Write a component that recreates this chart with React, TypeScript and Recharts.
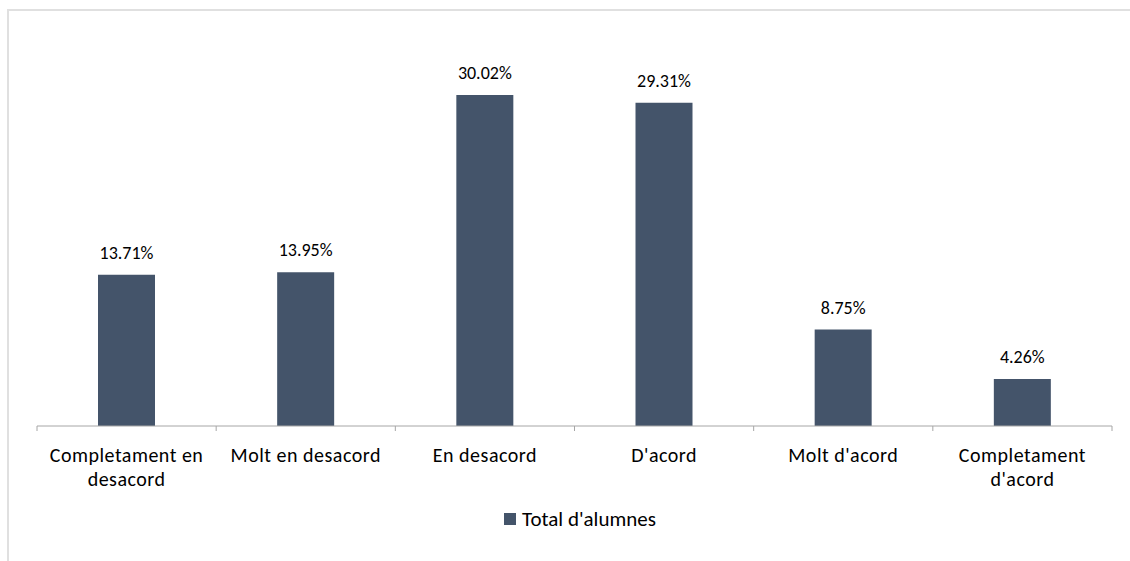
import React from "react";
import { BarChart, Bar, XAxis, YAxis, Legend, LabelList } from "recharts";

// categories and values
const categories: string[] = [
  "Completament en desacord",
  "Molt en desacord",
  "En desacord",
  "D'acord",
  "Molt d'acord",
  "Completament d'acord",
];
const totalAlumnes: number[] = [13.71, 13.95, 30.02, 29.31, 8.75, 4.26];
const seriesName = "Total d'alumnes";

const chartData = categories.map((cat, i) => ({
  category: cat,
  total: totalAlumnes[i],
}));

const FONT = "Calibri, Carlito, Lato, sans-serif";
const BAR_COLOR = "#44546a";
const TICK_FONT_SIZE = 20;
const TICK_SPACING = 0.5;

// greedy word wrap measured on a canvas
let ctx: CanvasRenderingContext2D | null = null;
const measure = (s: string) => {
  if (!ctx) {
    ctx = document.createElement("canvas").getContext("2d");
  }
  if (!ctx) return s.length * TICK_FONT_SIZE * 0.5;
  ctx.font = `${TICK_FONT_SIZE}px ${FONT}`;
  return ctx.measureText(s).width + s.length * TICK_SPACING;
};
const wrap = (label: string, maxWidth: number): string[] => {
  const lines: string[] = [];
  label.split(" ").forEach((w) => {
    const last = lines[lines.length - 1];
    if (last !== undefined && measure(last + " " + w) <= maxWidth) {
      lines[lines.length - 1] = last + " " + w;
    } else {
      lines.push(w);
    }
  });
  return lines;
};

// category label plus the tick marks between categories (Excel style)
const CategoryTick = (props: any) => {
  const { x, y, payload, index } = props;
  const half = payload?.offset || 89.6;
  const lines = wrap(String(payload.value), half * 2 - 12);
  return (
    <g>
      <line x1={x - half} y1={y} x2={x - half} y2={y + 5} stroke="#a6a6a6" />
      {index === categories.length - 1 && (
        <line x1={x + half} y1={y} x2={x + half} y2={y + 5} stroke="#a6a6a6" />
      )}
      {lines.map((ln, i) => (
        <text
          key={i}
          x={x}
          y={y + 36 + i * 24}
          textAnchor="middle"
          fill="#000"
          style={{
            fontFamily: FONT,
            fontSize: TICK_FONT_SIZE,
            letterSpacing: TICK_SPACING,
          }}
        >
          {ln}
        </text>
      ))}
    </g>
  );
};

const LegendContent = () => (
  <div
    style={{
      display: "flex",
      justifyContent: "center",
      alignItems: "center",
      paddingLeft: 30,
      fontFamily: FONT,
      fontSize: 21,
      lineHeight: "24px",
      color: "#000",
    }}
  >
    <span
      style={{
        display: "inline-block",
        width: 12,
        height: 12,
        background: BAR_COLOR,
        marginRight: 6,
      }}
    />
    <span>{seriesName}</span>
  </div>
);

const App: React.FC = () => {
  return (
    <div
      style={{
        position: "absolute",
        left: 0,
        top: 0,
        width: 1130,
        height: 561,
        overflow: "hidden",
        background: "#fff",
      }}
    >
      <div
        style={{
          position: "absolute",
          left: 7,
          top: 9,
          width: 1140,
          height: 600,
          borderLeft: "2px solid #e0e0e0",
          borderTop: "2px solid #e0e0e0",
        }}
      />
      <div style={{ position: "absolute", left: 0, top: 0 }}>
        <BarChart
          width={1130}
          height={561}
          data={chartData}
          margin={{ top: 40, right: 18, left: 37, bottom: 75 }}
        >
          <XAxis
            dataKey="category"
            axisLine={{ stroke: "#a6a6a6" }}
            tickLine={false}
            tickSize={0}
            tickMargin={0}
            height={60}
            interval={0}
            tick={<CategoryTick />}
          />
          <YAxis hide domain={[0, 35]} />
          <Legend
            verticalAlign="middle"
            align="center"
            content={<LegendContent />}
            wrapperStyle={{ top: 507, left: 0, width: 1130 }}
          />
          <Bar
            dataKey="total"
            name={seriesName}
            fill={BAR_COLOR}
            barSize={57}
            isAnimationActive={false}
          >
            <LabelList
              dataKey="total"
              position="top"
              offset={16}
              formatter={(v: any) => `${Number(v).toFixed(2)}%`}
              style={{ fontFamily: FONT, fontSize: 18, fill: "#000" }}
            />
          </Bar>
        </BarChart>
      </div>
    </div>
  );
};

export default App;
